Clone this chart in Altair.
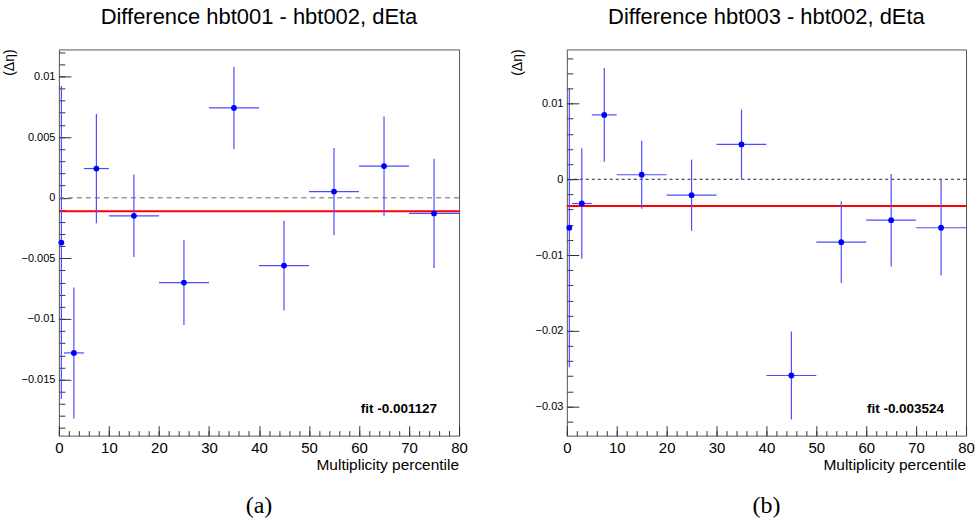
import altair as alt
import pandas as pd

# ---- data ----
x_center = [0.5, 3, 7.5, 15, 25, 35, 45, 55, 65, 75]
x_low = [0, 1, 5, 10, 20, 30, 40, 50, 60, 70]
x_high = [1, 5, 10, 20, 30, 40, 50, 60, 70, 80]

a_val = [-0.0037, -0.0128, 0.0024, -0.0015, -0.0070, 0.0074, -0.0056, 0.0005, 0.0026, -0.0013]
a_err = [0.0129, 0.0054, 0.0045, 0.0034, 0.0035, 0.0034, 0.0037, 0.0036, 0.0041, 0.0045]
a_fit = -0.001127

b_val = [-0.0064, -0.0032, 0.0085, 0.0006, -0.0021, 0.0046, -0.0259, -0.0083, -0.0054, -0.0064]
b_err = [0.0184, 0.0073, 0.0062, 0.0045, 0.0047, 0.0046, 0.0058, 0.0054, 0.0061, 0.0063]
b_fit = -0.003524

x_major = [0, 10, 20, 30, 40, 50, 60, 70, 80]
x_minor = [v for v in range(0, 81, 2)]

a_y_major = [-0.015, -0.01, -0.005, 0, 0.005, 0.01]
a_y_minor = [round(k * 0.001, 3) for k in range(-19, 13)]
b_y_major = [-0.03, -0.02, -0.01, 0, 0.01]
b_y_minor = [round(k * 0.002, 3) for k in range(-16, 9)]

FONT = "Liberation Sans"
BAR = "#4d4dff"


def panel(vals, errs, fit, ydom, ymaj, ymin, title, caption, width, zero_color, zero_dash, zero_w,
          anchor=False):
    height = 387
    df = pd.DataFrame({
        "x": x_center, "xlo": x_low, "xhi": x_high, "y": vals,
        "lo": [v - e for v, e in zip(vals, errs)],
        "hi": [v + e for v, e in zip(vals, errs)],
    })
    xs = alt.Scale(domain=[0, 80], nice=False, zero=False)
    ys = alt.Scale(domain=ydom, nice=False, zero=False)

    x_axis_major = alt.Axis(orient="bottom", values=x_major, offset=-10, tickSize=10,
                            domain=False, grid=False, labelPadding=5, labelFontSize=15,
                            labelFont=FONT, labelColor="black", format="d", title=None,
                            labelFlush=False, labelOverlap=False, labelBound=False,
                            tickColor="#333", tickWidth=1)
    y_axis_major = alt.Axis(orient="left", values=ymaj, offset=-12, tickSize=12,
                            domain=False, grid=False, labelPadding=4, labelFontSize=11,
                            labelFont=FONT, labelColor="black", format=".3~f", title=None,
                            labelFlush=False, labelOverlap=False, labelBound=False,
                            tickColor="#333", tickWidth=1)
    x_axis_minor = alt.Axis(orient="bottom", values=x_minor, offset=-5, tickSize=5,
                            domain=False, grid=False, labels=False, title=None,
                            tickColor="#333", tickWidth=1)
    y_axis_minor = alt.Axis(orient="left", values=ymin, offset=-6, tickSize=6,
                            domain=False, grid=False, labels=False, title=None,
                            tickColor="#333", tickWidth=1)

    base = alt.Chart(df)
    zero = alt.Chart(pd.DataFrame({"v": [0.0]})).mark_rule(
        color=zero_color, strokeDash=zero_dash, strokeWidth=zero_w).encode(
        y=alt.Y("v:Q", scale=ys, axis=None))
    fitline = alt.Chart(pd.DataFrame({"v": [fit]})).mark_rule(
        color="#ff0000", strokeWidth=2).encode(
        y=alt.Y("v:Q", scale=ys, axis=None))
    vbars = base.mark_rule(color=BAR, strokeWidth=1.2).encode(
        x=alt.X("x:Q", scale=xs, axis=None),
        y=alt.Y("lo:Q", scale=ys, axis=None), y2="hi:Q")
    hbars = base.mark_rule(color=BAR, strokeWidth=1.2).encode(
        x=alt.X("xlo:Q", scale=xs, axis=None), x2="xhi:Q",
        y=alt.Y("y:Q", scale=ys, axis=None))
    pts = base.mark_point(filled=True, shape="circle", size=34, color="#0000ff", opacity=1).encode(
        x=alt.X("x:Q", scale=xs, axis=x_axis_major),
        y=alt.Y("y:Q", scale=ys, axis=y_axis_major))
    minor = alt.Chart(pd.DataFrame({"mx": [0.0], "my": [0.0]})).mark_point(opacity=0).encode(
        x=alt.X("mx:Q", scale=xs, axis=x_axis_minor),
        y=alt.Y("my:Q", scale=ys, axis=y_axis_minor))

    texts = pd.DataFrame({"t": [f"fit {fit:.6f}"]})
    fit_txt = alt.Chart(texts).mark_text(align="right", baseline="alphabetic", font=FONT,
                                         fontWeight="bold", fontSize=13.5, color="black").encode(
        x=alt.value(width - 22), y=alt.value(364), text="t:N")
    ttl = alt.Chart(pd.DataFrame({"t": [title]})).mark_text(
        align="center", baseline="alphabetic", font=FONT, fontSize=22, color="black").encode(
        x=alt.value(width / 2), y=alt.value(-25), text="t:N")
    xttl = alt.Chart(pd.DataFrame({"t": ["Multiplicity percentile"]})).mark_text(
        align="right", baseline="alphabetic", font=FONT, fontSize=15.5, color="black").encode(
        x=alt.value(width), y=alt.value(height + 34), text="t:N")
    yttl = alt.Chart(pd.DataFrame({"t": ["(Δη)"]})).mark_text(
        align="right", baseline="bottom", angle=270, font=FONT, fontSize=14, color="black").encode(
        x=alt.value(-42), y=alt.value(0), text="t:N")
    cap = alt.Chart(pd.DataFrame({"t": [caption]})).mark_text(
        align="center", baseline="middle", font="Liberation Serif", fontSize=24, color="black").encode(
        x=alt.value(width / 2), y=alt.value(height + 71), text="t:N")

    layers = [zero, fitline, vbars, hbars, pts, minor, fit_txt, ttl, xttl, yttl, cap]
    if anchor:
        # invisible spacer fixing the page's top-left corner (58 px left, 48 px above the plot)
        spacer = alt.Chart(pd.DataFrame({"t": [0]})).mark_rule(strokeOpacity=0, opacity=0).encode(
            x=alt.value(-58), x2=alt.value(-57), y=alt.value(-48), y2=alt.value(-47))
        layers.append(spacer)

    return alt.layer(*layers).resolve_axis(
        x="independent", y="independent").properties(width=width, height=height)


left = panel(a_val, a_err, a_fit, [-0.01962, 0.01222], a_y_major, a_y_minor,
             "Difference hbt001 - hbt002, dEta", "(a)", 401, "#999999", [5, 4], 1.5, anchor=True)
right = panel(b_val, b_err, b_fit, [-0.03384, 0.01714], b_y_major, b_y_minor,
              "Difference hbt003 - hbt002, dEta", "(b)", 400, "#222222", [3, 3], 1)

chart = alt.hconcat(left, right, spacing=108, bounds="flush").configure_view(
    stroke="#555555", strokeWidth=1).properties(
    padding={"left": 0, "top": 0, "right": 0, "bottom": 0}, background="white")

chart.save("out.html", embed_options={"renderer": "svg", "actions": False})
